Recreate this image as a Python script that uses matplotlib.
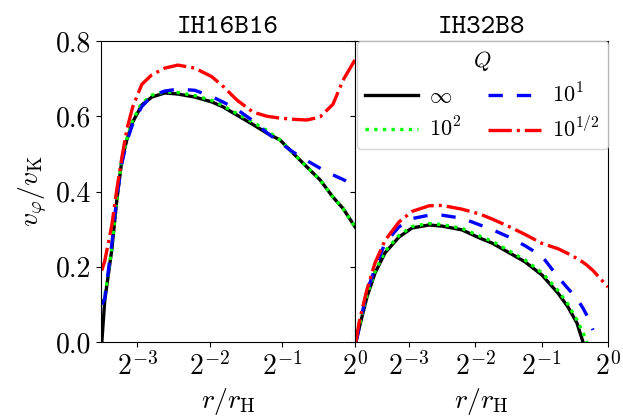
import matplotlib
matplotlib.use("Agg")
import matplotlib.pyplot as plt
from matplotlib.ticker import LogFormatterMathtext, NullLocator, FixedLocator

plt.rcParams["font.family"] = "serif"
plt.rcParams["font.serif"] = ["cmr10"]
plt.rcParams["mathtext.fontset"] = "cm"
plt.rcParams["axes.unicode_minus"] = False
plt.rcParams["axes.formatter.use_mathtext"] = True

# --- IH16B16 (left panel), r / r_H ---
r_left = [0.0891, 0.0916, 0.0980, 0.1028, 0.1079, 0.1131, 0.1197, 0.1306,
          0.1436, 0.1627, 0.1842, 0.2166, 0.2549, 0.2832, 0.3239, 0.3774,
          0.4314, 0.4883, 0.5530, 0.6321, 0.7159, 0.8105, 0.8920, 1.0]
left_inf = [0.0, 0.11, 0.245, 0.377, 0.484, 0.537, 0.585, 0.63, 0.651, 0.662,
            0.659, 0.651, 0.638, 0.625, 0.603, 0.578, 0.555, 0.537, 0.502,
            0.465, 0.431, 0.385, 0.355, 0.306]
left_q100 = [0.106, 0.12, 0.25, 0.38, 0.487, 0.54, 0.59, 0.635, 0.656, 0.665,
             0.663, 0.655, 0.642, 0.628, 0.607, 0.584, 0.562, 0.537, 0.502,
             0.465, 0.431, 0.385, 0.355, 0.306]
left_q10 = [0.10, 0.115, 0.26, 0.385, 0.475, 0.533, 0.58, 0.626, 0.654, 0.667,
            0.672, 0.669, 0.652, 0.638, 0.618, 0.588, 0.556, 0.53, 0.505,
            0.482, 0.462, 0.444, 0.432, 0.415]
left_q3 = [0.19, 0.215, 0.31, 0.405, 0.49, 0.565, 0.625, 0.685, 0.71, 0.728,
           0.736, 0.728, 0.705, 0.68, 0.643, 0.611, 0.60, 0.595, 0.592, 0.59,
           0.598, 0.632, 0.696, 0.75]

# --- IH32B8 (right panel) ---
r_right = [0.0718, 0.0741, 0.0765, 0.0806, 0.0876, 0.0973, 0.1126, 0.1290,
           0.1541, 0.1765, 0.2175, 0.2624, 0.2975, 0.3518, 0.4201, 0.5017,
           0.5929, 0.6585, 0.7235, 0.7699, 0.8032, 0.8549, 1.0]
right_inf = [0.0, 0.035, 0.067, 0.12, 0.183, 0.237, 0.279, 0.303, 0.311, 0.308,
             0.298, 0.276, 0.263, 0.239, 0.213, 0.178, 0.13, 0.093, 0.05, 0.0]
right_q100 = [0.005, 0.04, 0.072, 0.125, 0.187, 0.241, 0.283, 0.307, 0.315,
              0.312, 0.302, 0.281, 0.268, 0.244, 0.218, 0.184, 0.137, 0.10,
              0.058, 0.025, 0.0]
right_q10 = [0.0, 0.035, 0.075, 0.135, 0.195, 0.263, 0.306, 0.328, 0.337,
             0.337, 0.329, 0.311, 0.299, 0.28, 0.256, 0.228, 0.173, 0.142,
             0.115, 0.09, 0.07, 0.032]
right_q3 = [0.0, 0.05, 0.085, 0.14, 0.21, 0.27, 0.319, 0.347, 0.362, 0.363,
            0.353, 0.34, 0.327, 0.308, 0.286, 0.262, 0.248, 0.235, 0.222,
            0.212, 0.204, 0.19, 0.146]

labels = [r"$\infty$", r"$10^2$", r"$10^1$", r"$10^{1/2}$"]
colors = ["black", "lime", "blue", "red"]
dash_patterns = [None, (1.0, 1.6), (4.3, 4.2), (7.0, 1.5, 0.9, 1.5)]
lw = 2.4

fig = plt.figure(figsize=(6.23, 4.2), dpi=100)
ax1 = fig.add_axes([101 / 623, 78 / 420, 254 / 623, 301 / 420])
ax2 = fig.add_axes([355 / 623, 78 / 420, 253 / 623, 301 / 420], sharey=ax1)

panels = [
    (ax1, r_left, [left_inf, left_q100, left_q10, left_q3], "IH16B16", 0.0884),
    (ax2, r_right, [right_inf, right_q100, right_q10, right_q3], "IH32B8", 0.0711),
]

for ax, r, series, title, xmin in panels:
    for ys, c, dp, lab in zip(series, colors, dash_patterns, labels):
        line, = ax.plot(r[:len(ys)], ys, color=c, linewidth=lw, label=lab)
        if dp is not None:
            line.set_dashes(dp)
    ax.set_xscale("log", base=2)
    ax.set_xlim(xmin, 1.0)
    ax.xaxis.set_major_locator(FixedLocator([2**-3, 2**-2, 2**-1, 2**0]))
    ax.xaxis.set_major_formatter(LogFormatterMathtext(base=2))
    ax.xaxis.set_minor_locator(NullLocator())
    ax.set_title(title, family="cmtt10", fontsize=20)
    ax.set_xlabel(r"$r/r_{\rm H}$", fontsize=20)
    ax.tick_params(labelsize=20)

ax1.set_ylim(0, 0.8)
ax1.set_yticks([0.0, 0.2, 0.4, 0.6, 0.8])
ax1.set_yticklabels(["0.0", "0.2", "0.4", "0.6", "0.8"])
ax1.set_ylabel(r"$v_\varphi/v_{\rm K}$", fontsize=20)
ax2.tick_params(labelleft=False)

# legend order: column 1 = inf, 10^2 ; column 2 = 10^1, 10^{1/2}
h, l = ax2.get_legend_handles_labels()
ax2.legend(h, l, title=r"$Q$", ncol=2, loc="upper right", fontsize=16,
           title_fontsize=16, borderaxespad=0.0, handlelength=2.4,
           handletextpad=0.5, columnspacing=1.2, borderpad=0.35,
           labelspacing=0.45)

fig.savefig("out.png", dpi=100)
